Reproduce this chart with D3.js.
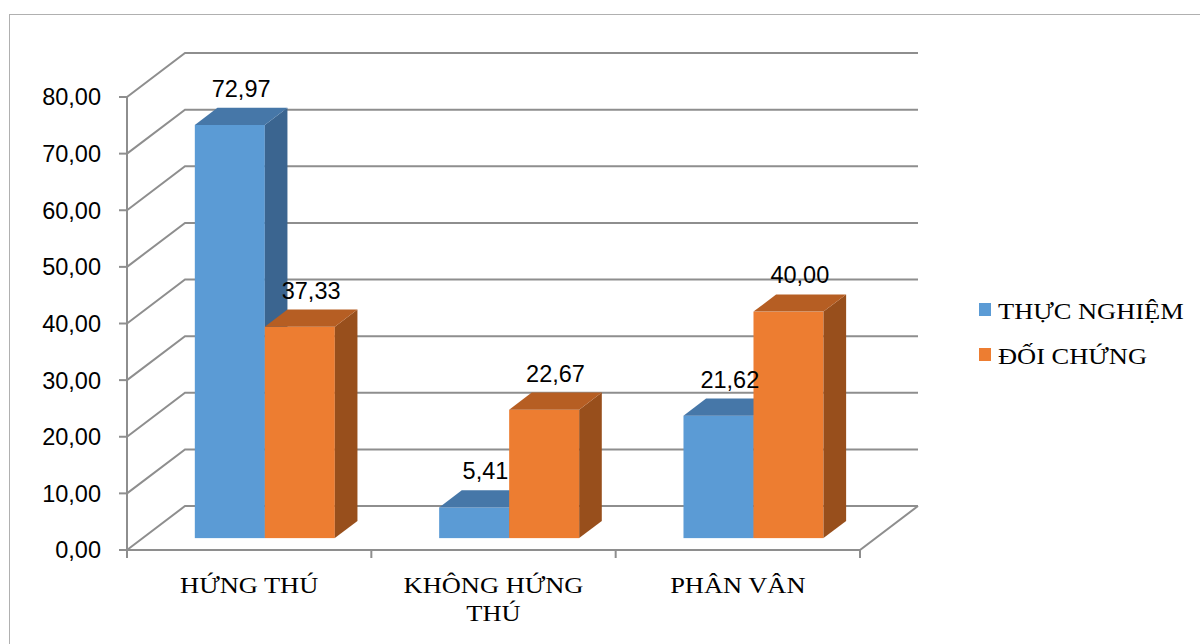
<!DOCTYPE html>
<html>
<head>
<meta charset="utf-8">
<script src="https://cdn.jsdelivr.net/npm/d3@7"></script>
<style>
  body { margin: 0; background: #fff; }
</style>
</head>
<body>
<div class="visual"></div>
<script>
const categories = [["HỨNG THÚ"], ["KHÔNG HỨNG", "THÚ"], ["PHÂN VÂN"]];
const series = ["THỰC NGHIỆM", "ĐỐI CHỨNG"];
const thucNghiem = [72.97, 5.41, 21.62];
const doiChung = [37.33, 22.67, 40.0];
const yTicks = [0, 10, 20, 30, 40, 50, 60, 70, 80];

const width = 1200;
const height = 644;

// colours: front, top, side
const colors = [
  { front: "#5b9bd5", top: "#4677a8", side: "#3b6590" },
  { front: "#ed7d31", top: "#b65e23", side: "#984f1c" },
];

const svg = d3
  .select(".visual")
  .append("svg")
  .attr("width", width)
  .attr("height", height);

// outer chart border
svg
  .append("rect")
  .attr("x", 9.5)
  .attr("y", 14.5)
  .attr("width", 1200)
  .attr("height", 640)
  .attr("fill", "none")
  .attr("stroke", "#b0b0b0");

const y = d3.scaleLinear().domain([0, 80]).range([550, 97]);
const x = d3
  .scaleBand()
  .domain(d3.range(categories.length))
  .range([127, 860])
  .padding(0);
const xs = d3
  .scaleBand()
  .domain(d3.range(series.length))
  .range([0, x.bandwidth()])
  .paddingInner(0)
  .paddingOuter(0.745);

// full depth of the 3d box
const depthX = 58;
const depthY = -44;
const barFront = 0.27;
const barBack = 0.66;
const gridColor = "#8e8e8e";
const sans = "Liberation Sans, Arial, sans-serif";
const serif = "Liberation Serif, Times New Roman, serif";

const fmt = (v) => v.toFixed(2).replace(".", ",");

// gridlines on left wall + back wall
const grid = svg.append("g");
yTicks.forEach((t) => {
  const yy = y(t);
  grid
    .append("path")
    .attr(
      "d",
      `M127,${yy}L${127 + depthX},${yy + depthY}L${860 + depthX},${yy + depthY}`
    )
    .attr("fill", "none")
    .attr("stroke", gridColor)
    .attr("stroke-width", 2);
});

// floor front + right edge
svg
  .append("path")
  .attr(
    "d",
    `M127,${y(0)}L860,${y(0)}L${860 + depthX},${y(0) + depthY}`
  )
  .attr("fill", "none")
  .attr("stroke", gridColor)
  .attr("stroke-width", 2);

// y axis line and ticks
svg
  .append("line")
  .attr("x1", 127)
  .attr("x2", 127)
  .attr("y1", y(80))
  .attr("y2", y(0) + 8)
  .attr("stroke", gridColor)
  .attr("stroke-width", 2);

svg
  .selectAll(".ytick")
  .data(yTicks)
  .enter()
  .append("line")
  .attr("x1", 119)
  .attr("x2", 127)
  .attr("y1", (d) => y(d))
  .attr("y2", (d) => y(d))
  .attr("stroke", gridColor)
  .attr("stroke-width", 2);

svg
  .selectAll(".ylabel")
  .data(yTicks)
  .enter()
  .append("text")
  .attr("x", 101)
  .attr("y", (d) => y(d))
  .attr("dy", "0.36em")
  .attr("text-anchor", "end")
  .attr("font-family", sans)
  .attr("font-size", 23.5)
  .attr("fill", "#000")
  .text(fmt);

// x ticks at category boundaries
const bounds = x.domain().map((i) => x(i)).concat([860]);
svg
  .selectAll(".xtick")
  .data(bounds)
  .enter()
  .append("line")
  .attr("x1", (d) => d)
  .attr("x2", (d) => d)
  .attr("y1", y(0))
  .attr("y2", y(0) + 8)
  .attr("stroke", gridColor)
  .attr("stroke-width", 2);

// category labels (serif, slightly stretched)
categories.forEach((lines, i) => {
  const cx = x(i) + x.bandwidth() / 2;
  lines.forEach((ln, j) => {
    svg
      .append("text")
      .attr("transform", `translate(${cx},${593 + j * 28}) scale(1.15,1)`)
      .attr("text-anchor", "middle")
      .attr("font-family", serif)
      .attr("font-size", 23)
      .attr("fill", "#000")
      .text(ln);
  });
});

// 3d bars
const values = [thucNghiem, doiChung];
const fx = depthX * barFront;
const fy = depthY * barFront;
const bx = depthX * (barBack - barFront);
const by = depthY * (barBack - barFront);

categories.forEach((c, i) => {
  values.forEach((vals, s) => {
    const v = vals[i];
    const x0 = x(i) + xs(s) + fx;
    const x1 = x0 + xs.bandwidth();
    const y0 = y(0) + fy;
    const y1 = y(v) + fy;
    const col = colors[s];
    const g = svg.append("g");
    // front
    g.append("rect")
      .attr("x", x0)
      .attr("y", y1)
      .attr("width", x1 - x0)
      .attr("height", y0 - y1)
      .attr("fill", col.front);
    // side
    g.append("path")
      .attr(
        "d",
        `M${x1},${y1}L${x1 + bx},${y1 + by}L${x1 + bx},${y0 + by}L${x1},${y0}Z`
      )
      .attr("fill", col.side);
    // top
    g.append("path")
      .attr(
        "d",
        `M${x0},${y1}L${x0 + bx},${y1 + by}L${x1 + bx},${y1 + by}L${x1},${y1}Z`
      )
      .attr("fill", col.top);
  });
});

// data labels above bar tops
categories.forEach((c, i) => {
  values.forEach((vals, s) => {
    const v = vals[i];
    const cx = x(i) + xs(s) + fx + xs.bandwidth() / 2 + bx / 2;
    const ty = y(v) + fy + by - 11;
    svg
      .append("text")
      .attr("x", cx)
      .attr("y", ty)
      .attr("text-anchor", "middle")
      .attr("font-family", sans)
      .attr("font-size", 23.5)
      .attr("fill", "#000")
      .text(fmt(v));
  });
});

// legend
const legend = svg
  .selectAll(".legend")
  .data(series)
  .enter()
  .append("g")
  .attr("transform", (d, i) => `translate(979,${303 + i * 45})`);

legend
  .append("rect")
  .attr("width", 12)
  .attr("height", 13)
  .attr("fill", (d, i) => colors[i].front);

legend
  .append("text")
  .attr("transform", "translate(19,16) scale(1.15,1)")
  .attr("font-family", serif)
  .attr("font-size", 23)
  .attr("fill", "#000")
  .text((d) => d);
</script>
</body>
</html>
